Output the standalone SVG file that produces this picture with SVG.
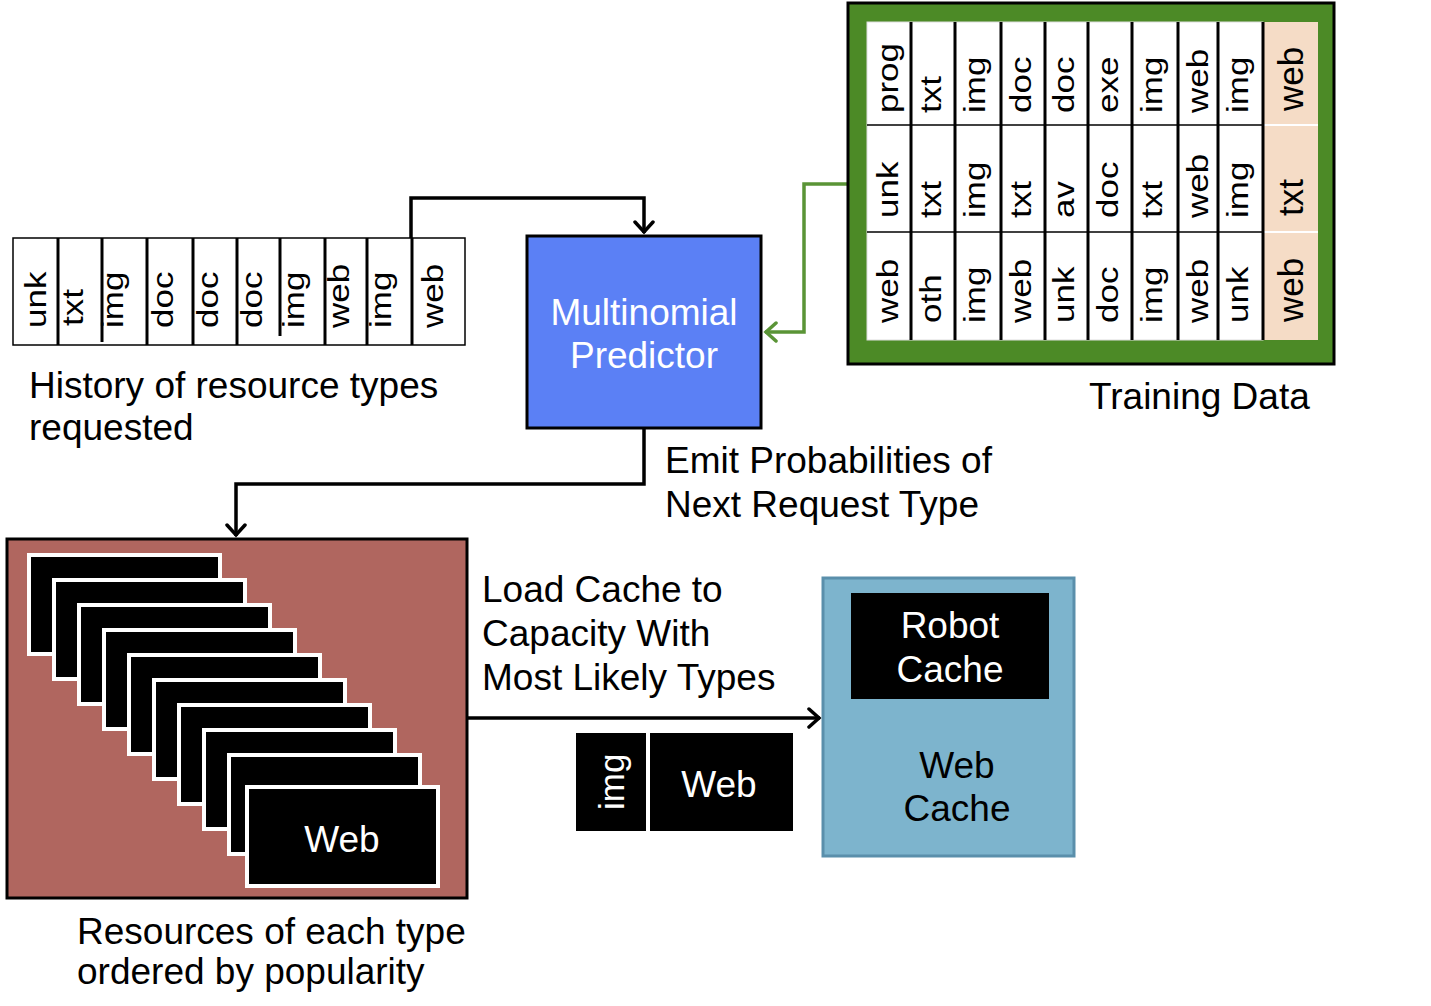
<svg xmlns="http://www.w3.org/2000/svg" width="1431" height="1006" viewBox="0 0 1431 1006">
<defs>
<marker id="arr" viewBox="-14 -11 16 22" refX="0" refY="0" markerWidth="16" markerHeight="22" markerUnits="userSpaceOnUse" orient="auto">
<path d="M-11,-9 L-1,0 L-11,9" fill="none" stroke="#000" stroke-width="3.5" stroke-linecap="round" stroke-linejoin="miter"/>
</marker>
<marker id="arrg" viewBox="-14 -11 16 22" refX="0" refY="0" markerWidth="16" markerHeight="22" markerUnits="userSpaceOnUse" orient="auto">
<path d="M-11,-9 L-1,0 L-11,9" fill="none" stroke="#5a9436" stroke-width="3.5" stroke-linecap="round"/>
</marker>
</defs>
<style>
text{font-family:"Liberation Sans",Arial,Helvetica,sans-serif;}
.lbl{font-size:37px;fill:#000;}
.wl{font-size:37px;fill:#fff;text-anchor:middle;}
.rt{font-size:35px;fill:#000;}
.div{stroke:#000;stroke-width:3;}
.thin{stroke:#000;stroke-width:1.5;}
.card{fill:#000;stroke:#fff;stroke-width:4;}
.conn{fill:none;stroke:#000;stroke-width:3.5;}
</style>
<rect width="1431" height="1006" fill="#fff"/>

<g id="connectors">
<path class="conn" d="M411,238 V198 H644 V233" marker-end="url(#arr)"/>
<path class="conn" d="M644,429 V484 H236 V536" marker-end="url(#arr)"/>
<path d="M847,184 H804 V332 H765" fill="none" stroke="#5a9436" stroke-width="3.5" marker-end="url(#arrg)"/>
<path class="conn" d="M468,718 H820" marker-end="url(#arr)"/>
</g>

<g id="history">
<rect x="13" y="238" width="452" height="107" fill="#fff" stroke="#000" stroke-width="1.5"/>
<line class="div" x1="58" y1="238" x2="58" y2="345"/>
<line class="div" x1="102" y1="238" x2="102" y2="342"/>
<line class="div" x1="147" y1="238" x2="147" y2="345"/>
<line class="div" x1="193" y1="238" x2="193" y2="345"/>
<line class="div" x1="237" y1="238" x2="237" y2="345"/>
<line class="div" x1="280" y1="238" x2="280" y2="336"/>
<line class="div" x1="325" y1="238" x2="325" y2="345"/>
<line class="div" x1="367" y1="238" x2="367" y2="345"/>
<line class="div" x1="412" y1="238" x2="412" y2="345"/>
<text class="rt" transform="translate(46,328) rotate(-90) scale(1,0.82)">unk</text>
<text class="rt" transform="translate(83,326) rotate(-90) scale(1,0.82)">txt</text>
<text class="rt" transform="translate(123,328) rotate(-90) scale(1,0.82)">img</text>
<text class="rt" transform="translate(173,328) rotate(-90) scale(1,0.82)">doc</text>
<text class="rt" transform="translate(218,328) rotate(-90) scale(1,0.82)">doc</text>
<text class="rt" transform="translate(262,328) rotate(-90) scale(1,0.82)">doc</text>
<text class="rt" transform="translate(304,328) rotate(-90) scale(1,0.82)">img</text>
<text class="rt" transform="translate(349,328) rotate(-90) scale(1,0.82)">web</text>
<text class="rt" transform="translate(391,328) rotate(-90) scale(1,0.82)">img</text>
<text class="rt" transform="translate(443,328) rotate(-90) scale(1,0.82)">web</text>
<text class="lbl" x="29" y="398">History of resource types</text>
<text class="lbl" x="29" y="440">requested</text>
</g>

<g id="predictor">
<rect x="527" y="236" width="234" height="192" fill="#5b80f5" stroke="#000" stroke-width="3"/>
<text class="wl" x="644" y="325">Multinomial</text>
<text class="wl" x="644" y="368">Predictor</text>
</g>

<g id="training">
<rect x="848" y="3" width="486" height="361" fill="#4c8a26" stroke="#000" stroke-width="3"/>
<rect x="867" y="22" width="396" height="318" fill="#fff" stroke="#ddd" stroke-width="1"/>
<rect x="1263" y="22" width="55" height="318" fill="#f5dcc6"/>
<line class="thin" x1="867" y1="125" x2="1263" y2="125"/>
<line class="thin" x1="867" y1="232" x2="1263" y2="232"/>
<line x1="1263" y1="125" x2="1318" y2="125" stroke="#fff" stroke-width="2"/>
<line x1="1263" y1="232" x2="1318" y2="232" stroke="#fff" stroke-width="2"/>
<line class="div" x1="911" y1="22" x2="911" y2="340"/>
<line class="div" x1="955" y1="22" x2="955" y2="340"/>
<line class="div" x1="1001" y1="22" x2="1001" y2="340"/>
<line class="div" x1="1045" y1="22" x2="1045" y2="340"/>
<line class="div" x1="1088" y1="22" x2="1088" y2="340"/>
<line class="div" x1="1132" y1="22" x2="1132" y2="340"/>
<line class="div" x1="1178" y1="22" x2="1178" y2="340"/>
<line class="div" x1="1218" y1="22" x2="1218" y2="340"/>
<line class="div" x1="1263" y1="22" x2="1263" y2="340"/>
<g transform="translate(0,0)">
<text class="rt" transform="translate(898,113) rotate(-90) scale(1,0.86)">prog</text>
<text class="rt" transform="translate(941,113) rotate(-90) scale(1,0.86)">txt</text>
<text class="rt" transform="translate(985,113) rotate(-90) scale(1,0.86)">img</text>
<text class="rt" transform="translate(1031,113) rotate(-90) scale(1,0.86)">doc</text>
<text class="rt" transform="translate(1074,113) rotate(-90) scale(1,0.86)">doc</text>
<text class="rt" transform="translate(1118,113) rotate(-90) scale(1,0.86)">exe</text>
<text class="rt" transform="translate(1162,113) rotate(-90) scale(1,0.86)">img</text>
<text class="rt" transform="translate(1208,113) rotate(-90) scale(1,0.86)">web</text>
<text class="rt" transform="translate(1248,113) rotate(-90) scale(1,0.86)">img</text>
<text class="rt" transform="translate(1303,111) rotate(-90)">web</text>

<text class="rt" transform="translate(898,218) rotate(-90) scale(1,0.86)">unk</text>
<text class="rt" transform="translate(941,218) rotate(-90) scale(1,0.86)">txt</text>
<text class="rt" transform="translate(985,218) rotate(-90) scale(1,0.86)">img</text>
<text class="rt" transform="translate(1031,218) rotate(-90) scale(1,0.86)">txt</text>
<text class="rt" transform="translate(1074,218) rotate(-90) scale(1,0.86)">av</text>
<text class="rt" transform="translate(1118,218) rotate(-90) scale(1,0.86)">doc</text>
<text class="rt" transform="translate(1162,218) rotate(-90) scale(1,0.86)">txt</text>
<text class="rt" transform="translate(1208,218) rotate(-90) scale(1,0.86)">web</text>
<text class="rt" transform="translate(1248,218) rotate(-90) scale(1,0.86)">img</text>
<text class="rt" transform="translate(1303,216) rotate(-90)">txt</text>

<text class="rt" transform="translate(898,323) rotate(-90) scale(1,0.86)">web</text>
<text class="rt" transform="translate(941,323) rotate(-90) scale(1,0.86)">oth</text>
<text class="rt" transform="translate(985,323) rotate(-90) scale(1,0.86)">img</text>
<text class="rt" transform="translate(1031,323) rotate(-90) scale(1,0.86)">web</text>
<text class="rt" transform="translate(1074,323) rotate(-90) scale(1,0.86)">unk</text>
<text class="rt" transform="translate(1118,323) rotate(-90) scale(1,0.86)">doc</text>
<text class="rt" transform="translate(1162,323) rotate(-90) scale(1,0.86)">img</text>
<text class="rt" transform="translate(1208,323) rotate(-90) scale(1,0.86)">web</text>
<text class="rt" transform="translate(1248,323) rotate(-90) scale(1,0.86)">unk</text>
<text class="rt" transform="translate(1303,322) rotate(-90)">web</text>
</g>
<text class="lbl" x="1089" y="409">Training Data</text>
</g>

<g id="emit-label">
<text class="lbl" x="665" y="473">Emit Probabilities of</text>
<text class="lbl" x="665" y="517">Next Request Type</text>
</g>

<g id="resources">
<rect x="7" y="539" width="460" height="359" fill="#b0665f" stroke="#000" stroke-width="3"/>
<rect class="card" x="29" y="555" width="191" height="99"/>
<rect class="card" x="54" y="580" width="191" height="99"/>
<rect class="card" x="79" y="605" width="191" height="99"/>
<rect class="card" x="104" y="630" width="191" height="99"/>
<rect class="card" x="129" y="655" width="191" height="99"/>
<rect class="card" x="154" y="680" width="191" height="99"/>
<rect class="card" x="179" y="705" width="191" height="99"/>
<rect class="card" x="204" y="730" width="191" height="99"/>
<rect class="card" x="229" y="755" width="191" height="99"/>
<rect class="card" x="247" y="787" width="191" height="99"/>
<text class="wl" x="342" y="852">Web</text>
<text class="lbl" x="77" y="944">Resources of each type</text>
<text class="lbl" x="77" y="984">ordered by popularity</text>
</g>

<g id="load-label">
<text class="lbl" x="482" y="602">Load Cache to</text>
<text class="lbl" x="482" y="646">Capacity With</text>
<text class="lbl" x="482" y="690">Most Likely Types</text>
</g>

<g id="transfer">
<rect x="576" y="733" width="70" height="98" fill="#000"/>
<rect x="650" y="733" width="143" height="98" fill="#000"/>
<text class="rt" fill="#fff" style="fill:#fff" transform="translate(624,810) rotate(-90)">img</text>
<text class="wl" x="719" y="797">Web</text>
</g>

<g id="webcache">
<rect x="823" y="578" width="251" height="278" fill="#7db4cd" stroke="#5a8fab" stroke-width="3"/>
<rect x="851" y="593" width="198" height="106" fill="#000"/>
<text class="wl" x="950" y="638">Robot</text>
<text class="wl" x="950" y="682">Cache</text>
<text class="lbl" x="957" y="778" text-anchor="middle">Web</text>
<text class="lbl" x="957" y="821" text-anchor="middle">Cache</text>
</g>
</svg>
